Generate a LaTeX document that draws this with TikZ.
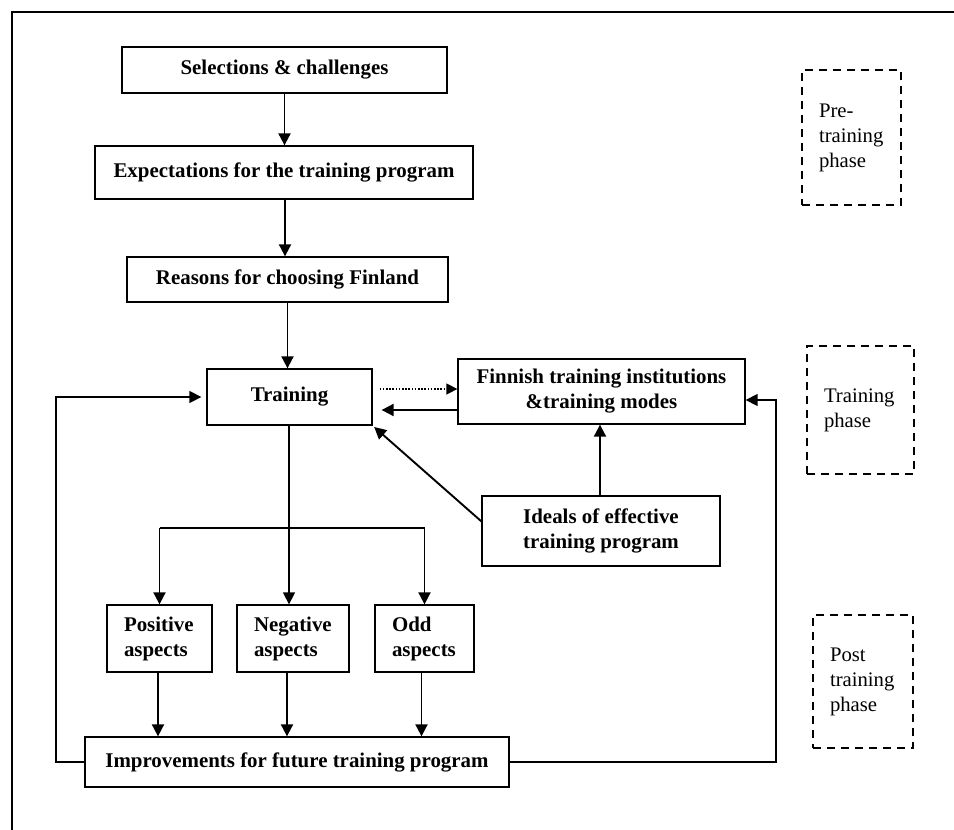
\documentclass[tikz,border=0pt]{standalone}
\usepackage{fontspec}
\setmainfont{Liberation Serif}
\usetikzlibrary{arrows.meta}
\begin{document}
\begin{tikzpicture}[x=1pt,y=-1pt,
  box/.style={draw, line width=1.3pt, font=\fontsize{20.9}{25}\selectfont\bfseries, align=center, inner sep=0pt},
  abox/.style={box, align=left, inner xsep=17pt},
  phase/.style={draw, line width=1.5pt, dash pattern=on 8pt off 6pt, font=\fontsize{20.7}{25}\selectfont, align=left, inner xsep=17pt, inner ysep=0pt},
  arr/.style={-{Triangle[length=12pt,width=12pt]}, line width=1.9pt},
  thinarr/.style={-{Triangle[length=12pt,width=12pt]}, line width=1.4pt},
  thinline/.style={line width=1.4pt},
  dotarr/.style={-{Triangle[length=11pt,width=11pt]}, line width=1.5pt, dash pattern=on 1.6pt off 1.6pt},
]
\useasboundingbox (0,0) rectangle (954,830);
\draw[line width=1.4pt] (954,12) -- (12,12) -- (12,830);

% main boxes
\node[box, minimum width=325pt, minimum height=46pt] (sel) at (284.5,70) {Selections \& challenges};
\node[box, minimum width=378pt, minimum height=53pt] (exp) at (284,172.5) {Expectations for the training program};
\node[box, minimum width=321pt, minimum height=45pt] (rea) at (287.5,279.5) {Reasons for choosing Finland};
\node[box, minimum width=165pt, minimum height=56pt] (tra) at (289.5,397) {Training};
\node[box, minimum width=287pt, minimum height=65pt] (fin) at (601.5,391.5) {Finnish training institutions\\\&training modes};
\node[box, minimum width=238pt, minimum height=70pt] (ide) at (601,531) {Ideals of effective\\training program};
\node[abox, text width=71pt, minimum height=67pt] (pos) at (159.5,638.5) {Positive\\aspects};
\node[abox, text width=78pt, minimum height=67pt] (neg) at (293,638.5) {Negative\\aspects};
\node[abox, text width=65pt, minimum height=67pt] (odd) at (424.5,638.5) {Odd\\aspects};
\node[box, minimum width=424pt, minimum height=50pt] (imp) at (297,762) {Improvements for future training program};

% phase boxes
\node[phase, text width=65pt, minimum height=135pt] (pre) at (851.5,137.5) {Pre-\\training\\phase};
\node[phase, text width=73pt, minimum height=128pt] (trp) at (860.5,410) {Training\\phase};
\node[phase, text width=66pt, minimum height=133pt] (pst) at (863,681.5) {Post\\training\\phase};

% vertical chain
\draw[arr] (sel.south) -- (sel.south |- exp.north);
\coordinate (e1) at ([xshift=1pt]exp.south);
\draw[arr] (e1) -- (e1 |- rea.north);
\draw[arr] (rea.south) -- (rea.south |- tra.north);

% training to aspects
\coordinate (t0) at ([xshift=-0.5pt]tra.south);
\draw[thinarr] (t0) -- (t0 |- neg.north);
\coordinate (B) at (0,528);
\draw[thinline] (pos.north |- B) -- (odd.north |- B);
\draw[arr] (pos.north |- B) -- (pos.north);
\draw[arr] (odd.north |- B) -- (odd.north);

% training <-> finnish
\coordinate (d1) at ([xshift=7pt,yshift=8pt]tra.east);
\draw[dotarr] (d1) -- (d1 -| fin.west);
\coordinate (s1) at ([xshift=9pt,yshift=-13pt]tra.east);
\draw[arr] (s1 -| fin.west) -- (s1);

% ideals
\coordinate (i1) at ([yshift=-26pt]ide.north west);
\draw[arr, shorten >=2pt] (i1) -- (tra.south east);
\coordinate (i2) at ([xshift=-1pt]ide.north);
\draw[arr] (i2) -- (i2 |- fin.south);

% aspects to improvements
\coordinate (p1) at ([xshift=-1.5pt]pos.south);
\draw[arr] (p1) -- (p1 |- imp.north);
\coordinate (n1) at ([xshift=-6pt]neg.south);
\draw[arr] (n1) -- (n1 |- imp.north);
\coordinate (o1) at ([xshift=-3pt]odd.south);
\draw[arr] (o1) -- (o1 |- imp.north);

% feedback loops
\coordinate (L) at (56,0);
\coordinate (t1) at ([xshift=-5pt]tra.west);
\draw[thinarr] (imp.west) -- (imp.west -| L) -- (L |- t1) -- (t1);
\coordinate (R) at (776,400);
\draw[thinarr] (imp.east) -- (imp.east -| R) -- (R) -- (R -| fin.east);
\end{tikzpicture}
\end{document}
